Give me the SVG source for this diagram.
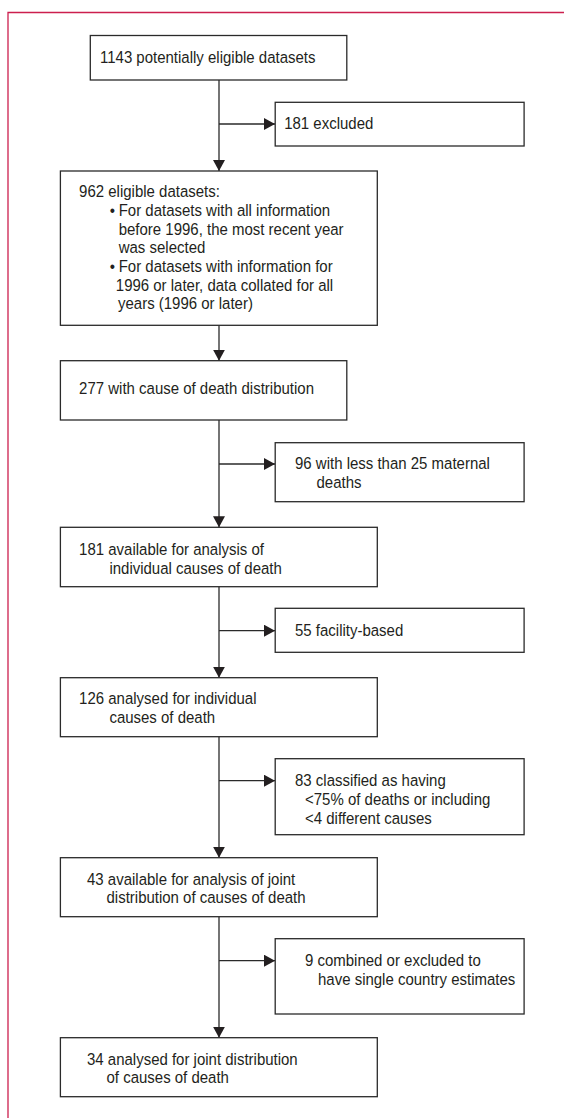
<svg xmlns="http://www.w3.org/2000/svg" width="564" height="1118" viewBox="0 0 564 1118">
<style>
.box{fill:#ffffff;stroke:#2a2a2a;stroke-width:1.3}
.t{font-family:"Liberation Sans",Arial,sans-serif;font-size:17px;fill:#231f20}
.c{fill:none;stroke:#2a2a2a;stroke-width:1.3}
.frame{fill:none;stroke:#cc1f4e;stroke-width:1.3}
</style>
<defs>
<marker id="ah" viewBox="0 0 11 12" refX="11" refY="6" markerWidth="11" markerHeight="12" markerUnits="userSpaceOnUse" orient="auto">
<path d="M0,0 L11,6 L0,12 z" fill="#231f20"/>
</marker>
</defs>
<rect width="564" height="1118" fill="#ffffff"/>
<path class="frame" d="M8,1118 L8,12.5 L564,12.5"/>

<g id="connectors">
<line class="c" x1="219" y1="80" x2="219" y2="171" marker-end="url(#ah)"/>
<line class="c" x1="219" y1="124" x2="275" y2="124" marker-end="url(#ah)"/>
<line class="c" x1="219" y1="325.3" x2="219" y2="360.7" marker-end="url(#ah)"/>
<line class="c" x1="219" y1="420" x2="219" y2="527.3" marker-end="url(#ah)"/>
<line class="c" x1="219" y1="464" x2="275" y2="464" marker-end="url(#ah)"/>
<line class="c" x1="219" y1="586.7" x2="219" y2="677.7" marker-end="url(#ah)"/>
<line class="c" x1="219" y1="630.7" x2="275" y2="630.7" marker-end="url(#ah)"/>
<line class="c" x1="219" y1="736.7" x2="219" y2="857.7" marker-end="url(#ah)"/>
<line class="c" x1="219" y1="780.7" x2="275" y2="780.7" marker-end="url(#ah)"/>
<line class="c" x1="219" y1="916.7" x2="219" y2="1037.7" marker-end="url(#ah)"/>
<line class="c" x1="219" y1="960.7" x2="275" y2="960.7" marker-end="url(#ah)"/>
</g>

<g id="n1">
<rect class="box" x="90.3" y="35.5" width="256.5" height="44.5"/>
<text class="t" transform="scale(0.882,1)" x="113.38" y="63">1143 potentially eligible datasets</text>
</g>
<g id="x1">
<rect class="box" x="275.2" y="102.3" width="248.9" height="43.7"/>
<text class="t" transform="scale(0.882,1)" x="322.22" y="129">181 excluded</text>
</g>
<g id="n2">
<rect class="box" x="60.4" y="171" width="316.9" height="154.3"/>
<text class="t" transform="scale(0.882,1)">
<tspan x="89.68" y="197.5">962 eligible datasets:</tspan>
<tspan x="124.38" y="216.2">•</tspan><tspan x="134.58" y="216.2">For datasets with all information</tspan>
<tspan x="134.58" y="234.8">before 1996, the most recent year</tspan>
<tspan x="134.58" y="253.4">was selected</tspan>
<tspan x="124.38" y="272">•</tspan><tspan x="134.58" y="272">For datasets with information for</tspan>
<tspan x="131.29" y="290.6">1996 or later, data collated for all</tspan>
<tspan x="133.79" y="309.2">years (1996 or later)</tspan>
</text>
</g>
<g id="n3">
<rect class="box" x="60.4" y="360.7" width="286.4" height="59.3"/>
<text class="t" transform="scale(0.882,1)" x="89.68" y="393.7">277 with cause of death distribution</text>
</g>
<g id="x2">
<rect class="box" x="275.2" y="442.7" width="248.9" height="59"/>
<text class="t" transform="scale(0.882,1)"><tspan x="334.47" y="469.5">96 with less than 25 maternal</tspan><tspan x="358.84" y="488.2">deaths</tspan></text>
</g>
<g id="n4">
<rect class="box" x="60.4" y="527.3" width="316.9" height="59.4"/>
<text class="t" transform="scale(0.882,1)"><tspan x="89.68" y="554.8">181 available for analysis of</tspan><tspan x="124.04" y="573.6">individual causes of death</tspan></text>
</g>
<g id="x3">
<rect class="box" x="275.2" y="608.3" width="248.9" height="44"/>
<text class="t" transform="scale(0.882,1)" x="334.47" y="636.3">55 facility-based</text>
</g>
<g id="n5">
<rect class="box" x="60.4" y="677.7" width="316.9" height="59"/>
<text class="t" transform="scale(0.882,1)"><tspan x="89.68" y="704.4">126 analysed for individual</tspan><tspan x="124.04" y="723">causes of death</tspan></text>
</g>
<g id="x4">
<rect class="box" x="275.2" y="758.7" width="248.9" height="76"/>
<text class="t" transform="scale(0.882,1)"><tspan x="334.47" y="786.4">83 classified as having</tspan><tspan x="345.8" y="805.2">&lt;75% of deaths or including</tspan><tspan x="345.8" y="824">&lt;4 different causes</tspan></text>
</g>
<g id="n6">
<rect class="box" x="60.4" y="857.7" width="316.9" height="59"/>
<text class="t" transform="scale(0.882,1)"><tspan x="98.64" y="884.6">43 available for analysis of joint</tspan><tspan x="120.75" y="903">distribution of causes of death</tspan></text>
</g>
<g id="x5">
<rect class="box" x="275.2" y="938.7" width="248.9" height="75.3"/>
<text class="t" transform="scale(0.882,1)"><tspan x="345.8" y="966.3">9 combined or excluded to</tspan><tspan x="360.54" y="985.2">have single country estimates</tspan></text>
</g>
<g id="n7">
<rect class="box" x="60.4" y="1037.7" width="316.9" height="59"/>
<text class="t" transform="scale(0.882,1)"><tspan x="98.64" y="1064.6">34 analysed for joint distribution</tspan><tspan x="120.75" y="1083.5">of causes of death</tspan></text>
</g>
</svg>
